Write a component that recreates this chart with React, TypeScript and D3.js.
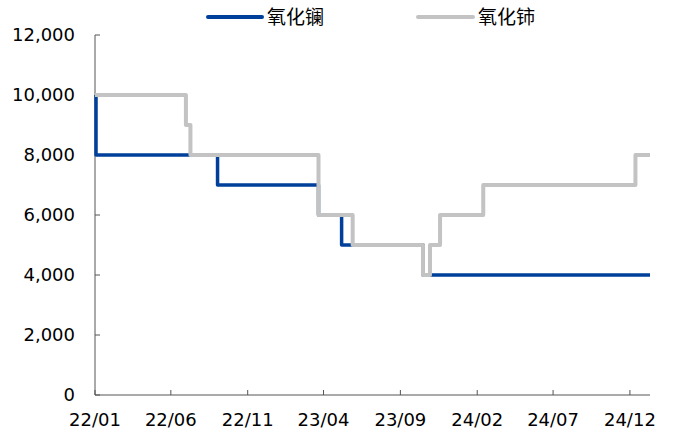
import React from "react";
import * as d3 from "d3";

const xTickLabels = ["22/01", "22/06", "22/11", "23/04", "23/09", "24/02", "24/07", "24/12"];
const xTickDates = ["2022-01-01", "2022-06-01", "2022-11-01", "2023-04-01", "2023-09-01", "2024-02-01", "2024-07-01", "2024-12-01"];
const yTicks = [0, 2000, 4000, 6000, 8000, 10000, 12000];

const lanthanumDates = ["2022-01-01", "2022-01-03", "2022-09-02", "2023-03-22", "2023-05-07", "2023-10-16", "2025-01-10"];
const lanthanumValues = [10000, 8000, 7000, 6000, 5000, 4000, 4000];

const ceriumDates = ["2022-01-01", "2022-07-01", "2022-07-10", "2023-03-22", "2023-05-29", "2023-10-16", "2023-10-30", "2023-11-19", "2024-02-13", "2024-12-12", "2025-01-10"];
const ceriumValues = [10000, 9000, 8000, 6000, 5000, 4000, 5000, 6000, 7000, 8000, 8000];

const seriesNames = ["氧化镧", "氧化铈"];
const colors = ["#00409A", "#C3C3C3"];

const W = 673, H = 434;
const left = 95, right = 650, top = 35, bottom = 395;
const parse = d3.timeParse("%Y-%m-%d");

export default function App() {
  const x = d3.scaleTime()
    .domain([parse("2022-01-01")!, parse("2025-01-10")!])
    .range([left, right]);
  const y = d3.scaleLinear().domain([0, 12000]).range([bottom, top]);
  const line = d3.line<[Date, number]>()
    .x(d => x(d[0]))
    .y(d => y(d[1]))
    .curve(d3.curveStepAfter);
  const la: [Date, number][] = lanthanumDates.map((d, i) => [parse(d)!, lanthanumValues[i]]);
  const ce: [Date, number][] = ceriumDates.map((d, i) => [parse(d)!, ceriumValues[i]]);
  const font = "'DejaVu Sans', Verdana, sans-serif";
  const axisColor = "#555555";
  return (
    <svg width={W} height={H} style={{ position: "absolute", left: 0, top: 0 }}>
      <rect x={0} y={0} width={W} height={H} fill="#fff" />
      {/* axes */}
      <line x1={left} x2={left} y1={top} y2={bottom} stroke={axisColor} strokeWidth={1} />
      <line x1={left} x2={right} y1={bottom} y2={bottom} stroke={axisColor} strokeWidth={1} />
      {yTicks.map(t => (
        <g key={t}>
          <line x1={left} x2={left + 5} y1={y(t)} y2={y(t)} stroke={axisColor} strokeWidth={1} />
          <text x={75} y={y(t)} dy="0.35em" textAnchor="end" fontFamily={font} fontSize={18} fill="#000">
            {d3.format(",")(t)}
          </text>
        </g>
      ))}
      {xTickDates.map((d, i) => {
        const xx = x(parse(d)!);
        return (
          <g key={d}>
            <line x1={xx} x2={xx} y1={bottom} y2={bottom - 5} stroke={axisColor} strokeWidth={1} />
            <text x={xx} y={420} dy="0.35em" textAnchor="middle" fontFamily={font} fontSize={18} fill="#000">
              {xTickLabels[i]}
            </text>
          </g>
        );
      })}
      {/* series */}
      <path d={line(la) || ""} fill="none" stroke={colors[0]} strokeWidth={3.5} strokeLinejoin="round" />
      <path d={line(ce) || ""} fill="none" stroke={colors[1]} strokeWidth={4} strokeLinejoin="round" />
      {/* legend */}
      <line x1={208} x2={262} y1={17} y2={17} stroke={colors[0]} strokeWidth={4} strokeLinecap="round" />
      <text x={267} y={17} dy="0.35em" fontFamily="'Noto Sans CJK SC', sans-serif" fontSize={19} fill="#000">{seriesNames[0]}</text>
      <line x1={418} x2={473} y1={17} y2={17} stroke={colors[1]} strokeWidth={4} strokeLinecap="round" />
      <text x={478} y={17} dy="0.35em" fontFamily="'Noto Sans CJK SC', sans-serif" fontSize={19} fill="#000">{seriesNames[1]}</text>
    </svg>
  );
}
